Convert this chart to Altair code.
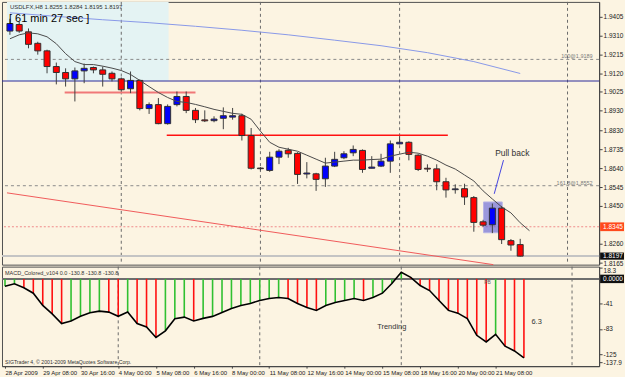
import json
import altair as alt
import pandas as pd

# ---------------- data ----------------
opens = [1.9332,1.9365,1.9328,1.9270,1.9232,1.9153,1.9123,1.9091,1.9131,1.9148,1.9136,1.9119,1.9091,1.9041,1.9083,1.8941,1.8961,1.8865,1.8961,1.9002,1.8932,1.8884,1.8880,1.8892,1.8898,1.8905,1.8805,1.8641,1.8629,1.8696,1.8731,1.8715,1.8611,1.8612,1.8587,1.8651,1.8693,1.8718,1.8730,1.8640,1.8651,1.8676,1.8763,1.8771,1.8706,1.8640,1.8637,1.8572,1.8532,1.8537,1.8492,1.8370,1.8355,1.8439,1.8275,1.8255]
closes = [1.9370,1.9332,1.9265,1.9232,1.9153,1.9123,1.9091,1.9131,1.9144,1.9136,1.9114,1.9091,1.9036,1.9083,1.8941,1.8961,1.8865,1.8952,1.9002,1.8932,1.8885,1.8879,1.8888,1.8905,1.8905,1.8805,1.8640,1.8638,1.8696,1.8726,1.8713,1.8609,1.8616,1.8584,1.8651,1.8685,1.8713,1.8735,1.8634,1.8646,1.8676,1.8763,1.8771,1.8710,1.8634,1.8636,1.8572,1.8531,1.8536,1.8495,1.8367,1.8353,1.8439,1.8280,1.8253,1.8197]
highs = [1.9394,1.9379,1.9345,1.9278,1.9238,1.9173,1.9144,1.9148,1.9168,1.9153,1.9153,1.9128,1.9098,1.9128,1.9088,1.8972,1.8994,1.8962,1.9027,1.9027,1.8944,1.8932,1.8902,1.8947,1.8944,1.8915,1.8843,1.8646,1.8723,1.8736,1.8743,1.8721,1.8671,1.8617,1.8693,1.8723,1.8726,1.8755,1.8735,1.8701,1.8713,1.8780,1.8802,1.8776,1.8711,1.8660,1.8660,1.8592,1.8559,1.8562,1.8500,1.8380,1.8462,1.8450,1.8283,1.8284]
lows = [1.9313,1.9323,1.9245,1.9213,1.9119,1.9063,1.9052,1.8977,1.9069,1.9119,1.9052,1.9078,1.9027,1.9019,1.8932,1.8914,1.8862,1.8860,1.8952,1.8918,1.8868,1.8873,1.8872,1.8837,1.8885,1.8780,1.8634,1.8629,1.8622,1.8661,1.8693,1.8561,1.8589,1.8526,1.8546,1.8646,1.8686,1.8701,1.8617,1.8640,1.8646,1.8617,1.8760,1.8680,1.8626,1.8621,1.8529,1.8492,1.8512,1.8455,1.8320,1.8345,1.8313,1.8258,1.8224,1.8195]

ma_fast = [1.9293,1.9313,1.9323,1.9318,1.9303,1.9268,1.9218,1.9178,1.9163,1.9163,1.9155,1.9145,1.9133,1.9113,1.9083,1.9052,1.9022,1.8997,1.8977,1.8972,1.8962,1.8950,1.8937,1.8927,1.8917,1.8912,1.8887,1.8827,1.8771,1.8746,1.8736,1.8726,1.8706,1.8686,1.8666,1.8671,1.8676,1.8681,1.8681,1.8684,1.8686,1.8701,1.8711,1.8721,1.8716,1.8701,1.8681,1.8656,1.8636,1.8606,1.8576,1.8526,1.8485,1.8445,1.8415,1.8365,1.8325]

ma_slow_bars = [0, 5, 10, 15, 20, 25, 30, 35, 40, 45, 50, 55]
ma_slow = [1.9424, 1.9406, 1.9389, 1.9374, 1.9356, 1.9336, 1.9313, 1.9286, 1.9258, 1.9223, 1.9178, 1.9118]

macd = [-12.2,-8.2,-14.8,-23.7,-44,-58,-74,-69.7,-62,-56,-53.4,-55,-62,-55,-74,-79.7,-97,-86,-66,-63.3,-69.7,-65.4,-62.1,-55.5,-48.9,-44,-40.7,-35.7,-32.5,-30.8,-32.5,-40.7,-47.3,-52.2,-44,-39,-35.7,-32.5,-35.7,-30.8,-23.7,-7.7,10.9,2.6,-11,-19.3,-35.7,-52.2,-56.7,-65.9,-93.4,-104.4,-91.8,-111.5,-119.3,-130.8]

time_tick_bars = [0, 4, 8, 12, 16, 20, 24, 28, 32, 36, 40, 44, 48, 52]
time_tick_labels = ["28 Apr 2009", "29 Apr 08:00", "30 Apr 16:00", "4 May 00:00", "5 May 08:00",
                    "6 May 16:00", "8 May 00:00", "11 May 08:00", "12 May 16:00", "14 May 00:00",
                    "15 May 08:00", "18 May 16:00", "20 May 00:00", "21 May 08:00"]
price_ticks = [1.9405, 1.9310, 1.9215, 1.9120, 1.9025, 1.8930, 1.8830, 1.8735, 1.8640,
               1.8545, 1.8450, 1.8260, 1.8165]
macd_ticks = [18.3, -41, -83, -125, -137.9]

grid_bars = [12, 27, 42, 60.1]
fib_levels = [1.9189, 1.8552]
fib_labels = ["100@1.9189", "161.8@1.8552"]
alert_price = 1.8345
bid_price = 1.8197
support_price = 1.9080

# ---------------- scales / axes ----------------
X_DOM = [-0.32, 62.97]
P_DOM = [1.8154, 1.9479]
M_DOM = [-144.5, 20.3]
xs = alt.Scale(domain=X_DOM, nice=False, zero=False)
ps = alt.Scale(domain=P_DOM, nice=False, zero=False)
ms = alt.Scale(domain=M_DOM, nice=False, zero=False)
FONT = "Liberation Sans"
BG = "#FCF4E2"

AX_P = alt.Axis(orient="right", values=price_ticks, format=".4f", title=None, labelFontSize=6.5,
                labelOffset=alt.condition("datum.value < 1.817", alt.value(1.5), alt.value(0)))
AX_M = alt.Axis(orient="right", values=macd_ticks, title=None, labelExpr="'' + datum.value", labelFontSize=6.5,
                labelBaseline=alt.condition("datum.value > 10", alt.value("top"), alt.value("middle")))
label_expr = "[" + ",".join(json.dumps(s) for s in time_tick_labels) + "][round(datum.value / 4)]"
AX_X = alt.Axis(values=time_tick_bars, labelExpr=label_expr, title=None, labelAlign="left",
                labelFontSize=6, labelOverlap=False, labelFont="Liberation Sans Narrow, Liberation Sans",
                labelBound=False, labelFlush=False, tickSize=2, labelPadding=1)


def PY(f):
    return alt.Y(f, scale=ps, axis=AX_P)


def MY(f):
    return alt.Y(f, scale=ms, axis=AX_M)


X = alt.X("i:Q", scale=xs, axis=None)
MX = alt.X("i:Q", scale=xs, axis=AX_X)

n = len(opens)
cdf = pd.DataFrame({"i": list(range(n)), "o": opens, "h": highs, "l": lows, "c": closes})
up_df = cdf[cdf["c"] >= cdf["o"]]
dn_df = cdf[cdf["c"] < cdf["o"]]

zone = alt.Chart(pd.DataFrame({"i": [X_DOM[0]], "i2": [17.1], "p": [P_DOM[1]], "p2": [support_price]})).mark_rect(
    color="#E4F3F3").encode(x=X, x2="i2:Q", y=PY("p:Q"), y2="p2:Q")

fib = alt.Chart(pd.DataFrame({"p": fib_levels})).mark_rule(
    color="#8A8A8A", strokeDash=[3, 3], strokeWidth=1).encode(y=PY("p:Q"))
fib_txt = alt.Chart(pd.DataFrame({"p": fib_levels, "t": fib_labels, "i": [62.8, 62.8]})).mark_text(
    align="right", baseline="middle", dy=-3, font=FONT, fontSize=5.5, color="#7A7A7A").encode(
    x=X, y=PY("p:Q"), text="t:N")

vgrid = alt.Chart(pd.DataFrame({"i": grid_bars})).mark_rule(
    color="#6A6A6A", strokeDash=[3, 3], strokeWidth=1).encode(x=X)

alert = alt.Chart(pd.DataFrame({"p": [alert_price]})).mark_rule(
    color="#F08A8A", strokeDash=[2, 2], strokeWidth=1).encode(y=PY("p:Q"))
support = alt.Chart(pd.DataFrame({"p": [support_price]})).mark_rule(
    color="#2A2A9A", strokeWidth=1).encode(y=PY("p:Q"))
bid = alt.Chart(pd.DataFrame({"p": [bid_price]})).mark_rule(
    color="#C4C4C4", strokeWidth=2).encode(y=PY("p:Q"))

slow = alt.Chart(pd.DataFrame({"i": ma_slow_bars, "p": ma_slow})).mark_line(
    color="#8898E8", strokeWidth=1).encode(x=X, y=PY("p:Q"))

trend = alt.Chart(pd.DataFrame({"i": [X_DOM[0], 52.1], "p": [1.8516, 1.8154]})).mark_line(
    color="#F05A5A", strokeWidth=1).encode(x=X, y=PY("p:Q"))

level_a = alt.Chart(pd.DataFrame({"i": [5.9], "i2": [20.0], "p": [1.9022]})).mark_rule(
    color="#F07878", strokeWidth=2.2).encode(x=X, x2="i2:Q", y=PY("p:Q"))
level_b = alt.Chart(pd.DataFrame({"i": [16.9], "i2": [47.2], "p": [1.8807]})).mark_rule(
    color="#FF1010", strokeWidth=1.5).encode(x=X, x2="i2:Q", y=PY("p:Q"))

pb_box = alt.Chart(pd.DataFrame({"i": [51.05], "i2": [53.06], "p": [1.8470], "p2": [1.8315]})).mark_rect(
    color="#5A5AD8", opacity=0.6, stroke="#8888E8", strokeWidth=1).encode(
    x=X, x2="i2:Q", y=PY("p:Q"), y2="p2:Q")

wick = alt.Chart(cdf).mark_rule(color="#404040", strokeWidth=1).encode(x=X, y=PY("l:Q"), y2="h:Q")
body_up = alt.Chart(up_df).mark_bar(size=6, stroke="#303030", strokeWidth=1, color="#0000FF").encode(
    x=X, y=PY("o:Q"), y2="c:Q")
body_dn = alt.Chart(dn_df).mark_bar(size=6, stroke="#303030", strokeWidth=1, color="#FF0000").encode(
    x=X, y=PY("o:Q"), y2="c:Q")

fast = alt.Chart(pd.DataFrame({"i": list(range(len(ma_fast))), "p": ma_fast})).mark_line(
    color="#4A4A4A", strokeWidth=1).encode(x=X, y=PY("p:Q"))

pb_line = alt.Chart(pd.DataFrame({"i": [53.2, 52.2], "p": [1.8681, 1.8511]})).mark_line(
    color="#4444E0", strokeWidth=1).encode(x=X, y=PY("p:Q"))

t_title = alt.Chart(pd.DataFrame({"i": [0.0], "p": [1.9454], "t": ["USDLFX,H8  1.8255 1.8284 1.8195 1.8197"]})).mark_text(
    align="left", baseline="middle", font=FONT, fontSize=6, color="#333333").encode(x=X, y=PY("p:Q"), text="t:N")
t_timer = alt.Chart(pd.DataFrame({"i": [-0.1], "p": [1.9394], "t": ["[ 61 min 27 sec ]"]})).mark_text(
    align="left", baseline="middle", font=FONT, fontSize=11, color="#000000").encode(x=X, y=PY("p:Q"), text="t:N")
t_pb = alt.Chart(pd.DataFrame({"i": [52.3], "p": [1.8716], "t": ["Pull back"]})).mark_text(
    align="left", baseline="middle", font=FONT, fontSize=8.5, color="#333333").encode(x=X, y=PY("p:Q"), text="t:N")

alert_box = alt.Chart(pd.DataFrame({"top": [alert_price + 0.0022], "bot": [alert_price - 0.0022]})).mark_rect(
    color="#FF4A1C").encode(x=alt.value(601), x2=alt.value(625), y=PY("top:Q"), y2="bot:Q")
bid_box = alt.Chart(pd.DataFrame({"top": [bid_price + 0.0018], "bot": [bid_price - 0.0018]})).mark_rect(
    color="#101010").encode(x=alt.value(601), x2=alt.value(625), y=PY("top:Q"), y2="bot:Q")
box_txt = alt.Chart(pd.DataFrame({"p": [alert_price, bid_price], "t": ["1.8345", "1.8197"]})).mark_text(
    align="left", baseline="middle", font=FONT, fontSize=6.5, color="white").encode(
    x=alt.value(604), y=PY("p:Q"), text="t:N")

main = alt.layer(zone, vgrid, fib, alert, support, bid, slow, trend, level_a, level_b, pb_box, wick,
                 body_up, body_dn, fast, pb_line, fib_txt, t_title, t_timer, t_pb, alert_box, bid_box,
                 box_txt).properties(width=600, height=264)

# ---------------- MACD panel ----------------
mdf = pd.DataFrame({"i": list(range(len(macd))), "v": macd})
mdf["z"] = 0.0
cols = []
for k, v in enumerate(macd):
    cols.append("g" if k == 0 or v >= macd[k - 1] else "r")
mdf["col"] = cols

m_grid = alt.Chart(pd.DataFrame({"i": grid_bars})).mark_rule(
    color="#6A6A6A", strokeDash=[3, 3], strokeWidth=1).encode(x=MX)
zero = alt.Chart(pd.DataFrame({"v": [0.0]})).mark_rule(color="#6E6E6E", strokeWidth=2).encode(y=MY("v:Q"))
hist_g = alt.Chart(mdf[mdf["col"] == "g"]).mark_rule(strokeWidth=1.6, color="#30C030").encode(
    x=MX, y=MY("z:Q"), y2="v:Q")
hist_r = alt.Chart(mdf[mdf["col"] == "r"]).mark_rule(strokeWidth=1.6, color="#FF1010").encode(
    x=MX, y=MY("z:Q"), y2="v:Q")
mline = alt.Chart(mdf).mark_line(color="#000000", strokeWidth=1.6).encode(x=MX, y=MY("v:Q"))


def mtext(i, v, t, size, color):
    return alt.Chart(pd.DataFrame({"i": [i], "v": [v], "t": [t]})).mark_text(
        align="left", baseline="middle", font=FONT, fontSize=size, color=color).encode(
        x=MX, y=MY("v:Q"), text="t:N")


m_title = mtext(0.0, 10.4, "MACD_Colored_v104 0.0 -130.8 -130.8 -130.8", 5.5, "#333333")
m_copy = mtext(0.0, -137.1, "SIGTrader 4, \u00a9 2001-2009 MetaQuotes Software Corp.", 5.2, "#333333")
m_trend = mtext(39.45, -80, "Trending", 7.5, "#333333")
m_63 = mtext(55.8, -72, "6.3", 7.5, "#333333")
m_pb = mtext(50.8, -6, "PB", 5, "#666666")

z_rect = alt.Chart(pd.DataFrame({"top": [7.0], "bot": [-7.0]})).mark_rect(color="#101010").encode(
    x=alt.value(601), x2=alt.value(625), y=MY("top:Q"), y2="bot:Q")
z_txt = alt.Chart(pd.DataFrame({"v": [0.0], "t": ["0.0000"]})).mark_text(
    align="left", baseline="middle", font=FONT, fontSize=6.5, color="white").encode(
    x=alt.value(604), y=MY("v:Q"), text="t:N")

macd_panel = alt.layer(m_grid, zero, hist_g, hist_r, mline, m_title, m_copy, m_trend, m_63, m_pb,
                       z_rect, z_txt).properties(width=600, height=100)

chart = alt.vconcat(main, macd_panel, spacing=2, bounds="flush").properties(
    padding=0, background=BG).configure_view(
    stroke="#505050", strokeWidth=1, fill=BG).configure_axis(
    labelFont=FONT, labelColor="#222222", tickColor="#444444", domainColor="#444444",
    tickSize=3, labelPadding=1, grid=False)

chart.save("out.html", embed_options={"renderer": "svg", "actions": False})
